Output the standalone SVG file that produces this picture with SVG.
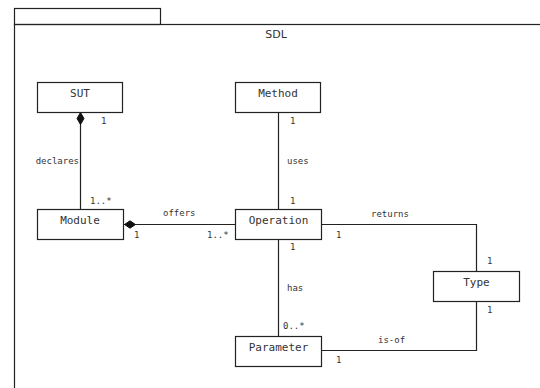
<svg xmlns="http://www.w3.org/2000/svg" width="540" height="388" viewBox="0 0 540 388">
<style>
.box{fill:#fff;stroke:#222;stroke-width:1.2}
.ln{fill:none;stroke:#222;stroke-width:1.2}
.nt{font-family:"DejaVu Sans Mono",monospace;font-size:11px;fill:#333;text-anchor:middle}
.lb{font-family:"DejaVu Sans Mono",monospace;font-size:9px;fill:#333}
.ttl{font-family:"DejaVu Sans",sans-serif;font-size:11px;fill:#333;text-anchor:middle}
.dia{fill:#111;stroke:#111;stroke-width:1}
</style>
<rect width="540" height="388" fill="#fff"/>
<g id="frame">
<rect x="14.5" y="8.5" width="146" height="16" class="box"/>
<rect x="14.5" y="24.5" width="560" height="400" class="ln"/>
<text x="276" y="38" class="ttl">SDL</text>
</g>
<g id="connectors">
<path class="ln" d="M80.5 112 V209"/>
<polygon class="dia" points="80.5,112.5 84,118.5 80.5,124.5 77,118.5"/>
<path class="ln" d="M278.5 112 V209"/>
<path class="ln" d="M124 224.5 H235"/>
<polygon class="dia" points="124.5,224.5 130,220.8 135.5,224.5 130,228.2"/>
<path class="ln" d="M322 224.5 H476.5 V271"/>
<path class="ln" d="M278.5 239 V336"/>
<path class="ln" d="M476.5 301 V350.5 H322"/>
<text x="101" y="124" class="lb">1</text>
<text x="79" y="164" class="lb" text-anchor="end">declares</text>
<text x="90" y="204" class="lb">1..*</text>
<text x="290" y="124" class="lb">1</text>
<text x="287" y="164" class="lb">uses</text>
<text x="290" y="204" class="lb">1</text>
<text x="163" y="216" class="lb">offers</text>
<text x="134" y="238" class="lb">1</text>
<text x="207" y="238" class="lb">1..*</text>
<text x="371" y="217" class="lb">returns</text>
<text x="336" y="238" class="lb">1</text>
<text x="290" y="250" class="lb">1</text>
<text x="287" y="291" class="lb">has</text>
<text x="283" y="329" class="lb">0..*</text>
<text x="487" y="264" class="lb">1</text>
<text x="487" y="313" class="lb">1</text>
<text x="378" y="343" class="lb">is-of</text>
<text x="336" y="363" class="lb">1</text>
</g>
<g id="SUT"><rect x="37.5" y="82.5" width="85" height="30" class="box"/><text x="80" y="97" class="nt">SUT</text></g>
<g id="Method"><rect x="235.5" y="82.5" width="85" height="30" class="box"/><text x="278" y="97" class="nt">Method</text></g>
<g id="Module"><rect x="37.5" y="209.5" width="86" height="30" class="box"/><text x="80" y="224" class="nt">Module</text></g>
<g id="Operation"><rect x="235.5" y="209.5" width="86" height="30" class="box"/><text x="278.5" y="224" class="nt">Operation</text></g>
<g id="Type"><rect x="433.5" y="271.5" width="86" height="30" class="box"/><text x="476.5" y="286" class="nt">Type</text></g>
<g id="Parameter"><rect x="235.5" y="336.5" width="86" height="30" class="box"/><text x="278.5" y="351" class="nt">Parameter</text></g>
</svg>
